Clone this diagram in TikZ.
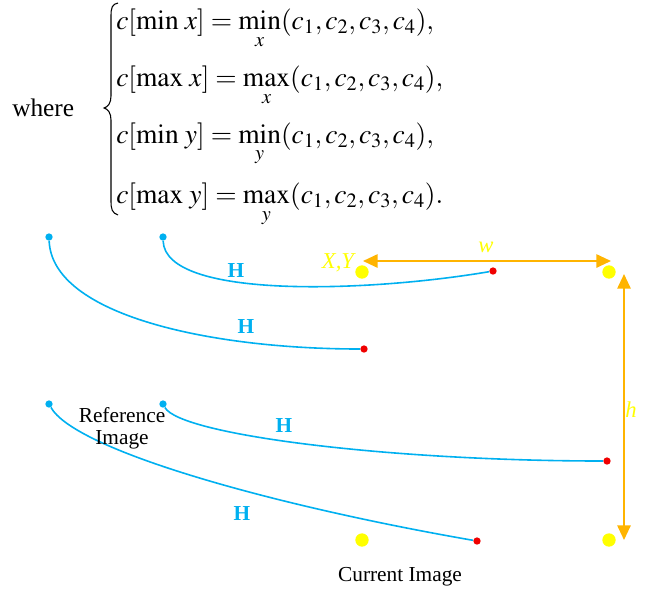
\documentclass[tikz,border=0pt]{standalone}
\usepackage{mathptmx}
\usepackage{fontspec}
\setmainfont{Liberation Serif}
\usetikzlibrary{arrows.meta}
\definecolor{hblue}{RGB}{0,176,240}
\definecolor{harrow}{RGB}{255,180,0}
\definecolor{hyel}{RGB}{255,255,0}
\definecolor{hred}{RGB}{240,0,0}
\tikzset{
  startdot/.style={circle,fill=hblue,inner sep=0pt,minimum size=5.5pt},
  enddot/.style={circle,fill=hred,inner sep=0pt,minimum size=5.5pt},
  corner/.style={circle,fill=hyel,inner sep=0pt,minimum size=10pt},
  hom/.style={draw=hblue,line width=1.2pt},
  hlabel/.style={text=hblue,font=\fontsize{16}{18}\selectfont\bfseries},
  dim/.style={draw=harrow,line width=1.4pt,{Triangle[length=11pt,width=10pt]}-{Triangle[length=11pt,width=10pt]}},
  dimlabel/.style={text=hyel,font=\fontsize{17}{19}\selectfont\itshape},
  plain/.style={font=\fontsize{16}{16.5}\selectfont,align=center},
  bracestroke/.style={draw=black,line width=0.8pt}
}
\begin{document}
\begin{tikzpicture}[x=0.75pt,y=-0.75pt]
\useasboundingbox (0,0) rectangle (655,593);
% equation
\node[anchor=west,inner sep=0pt,font=\fontsize{19}{22}\selectfont] (where) at (12,108) {where};
\draw[bracestroke] (118,3) .. controls (112,4) and (111,8) .. (111,16)
  -- (111,96) .. controls (111,103) and (108,107) .. (104,108)
  .. controls (108,109) and (111,113) .. (111,120)
  -- (111,201) .. controls (111,209) and (112,213) .. (118,215);
\node[anchor=west,inner sep=0pt,font=\fontsize{20.6}{24}\selectfont] (eq) at (116,110)
 {$\renewcommand{\arraystretch}{1.66}\begin{array}{@{}l@{}}
   c[\min\, x] = \min\limits_{x}(c_1,c_2,c_3,c_4),\\
   c[\max\, x] = \max\limits_{x}(c_1,c_2,c_3,c_4),\\
   c[\min\, y] = \min\limits_{y}(c_1,c_2,c_3,c_4),\\
   c[\max\, y] = \max\limits_{y}(c_1,c_2,c_3,c_4).
 \end{array}$};
% start dots
\node[startdot] (s1) at (49,237) {};
\node[startdot] (s2) at (163,237) {};
\node[startdot] (s3) at (49,404) {};
\node[startdot] (s4) at (163,404) {};
% end dots
\node[enddot] (e2) at (493,271) {};
\node[enddot] (e1) at (364,349) {};
\node[enddot] (e4) at (607,461) {};
\node[enddot] (e3) at (477,541) {};
% corners
\node[corner] (c1) at (362,272) {};
\node[corner] (c2) at (609,272) {};
\node[corner] (c3) at (362,540) {};
\node[corner] (c4) at (609,540) {};
% homography curves
\draw[hom] (s2) .. controls (165,300) and (370,292) .. (e2);
\draw[hom] (s1) .. controls (52,315) and (210,349) .. (e1);
\draw[hom] (s4) .. controls (180,435) and (390,461) .. (e4);
\draw[hom] (s3) .. controls (75,450) and (270,505) .. (e3);
\node[hlabel] (h1) at (236,271) {H};
\node[hlabel] (h2) at (246,327) {H};
\node[hlabel] (h3) at (284,426) {H};
\node[hlabel] (h4) at (242,514) {H};
% dimensions
\coordinate (wl) at (363,261);
\coordinate (wr) at (611,261);
\draw[dim] (wl) -- (wr);
\node[dimlabel] (wlab) at (486,247) {w};
\coordinate (ht) at (624,274);
\coordinate (hb) at (624,540);
\draw[dim] (ht) -- (hb);
\node[dimlabel] (hlab) at (631,410) {h};
\node[dimlabel] (xy) at (338,263) {X,Y};
% labels
\node[plain] (ref) at (122,428) {Reference\\Image};
\node[plain] (cur) at (400,577) {Current Image};
\end{tikzpicture}
\end{document}
